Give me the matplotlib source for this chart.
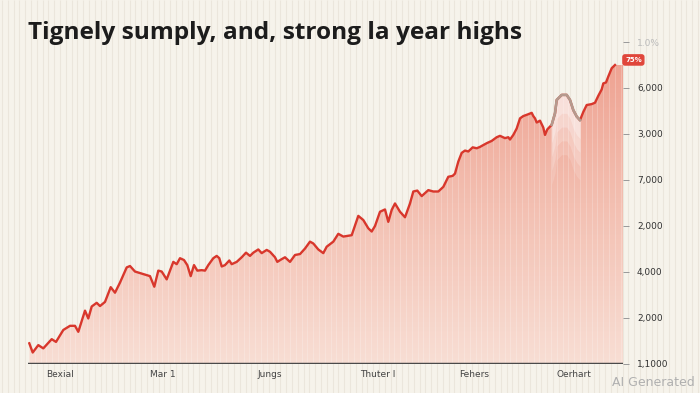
import numpy as np
import matplotlib
matplotlib.use("Agg")
import matplotlib.pyplot as plt
from matplotlib.colors import LinearSegmentedColormap

# series (x in days, y in axis units, one unit per tick)
days = [1.3, 4.7, 10.3, 15.3, 23.7, 28, 35.3, 42, 47, 50.3, 57, 60.3, 63.7, 68.7, 72, 77,
        82.7, 87, 92, 98.7, 102, 107, 122, 126.3, 130.3, 133.7, 138.7, 145.3, 148.7, 152,
        156, 159.3, 162.7, 166, 169.3, 173.7, 177, 180.3, 185.3, 188.7, 191.3, 193.7, 197,
        201.3, 203.7, 208.7, 213.7, 218, 222, 225.3, 230.3, 233.7, 238.7, 242, 247, 249.3,
        253.7, 257, 262, 267, 272, 277, 282, 285.3, 290.3, 295.3, 298.7, 305.3, 310.3,
        315.3, 323.7, 330.3, 335.3, 340.3, 343.7, 347, 352, 357, 360.3, 363.7, 367, 372,
        377, 382, 385.3, 389.3, 393.7, 400.3, 405.3, 410.3, 415.3, 420.3, 424.7, 427,
        430.3, 433.7, 437, 440.3, 444.7, 448.7, 452, 458.7, 463.7, 468.7, 472, 477, 480.3,
        482, 485.3, 488.7, 492, 495.3, 500.3, 503.7, 505.3, 507, 508.7, 512, 515.3, 517,
        519.3, 523.7, 527, 528.7, 533.7, 538.7, 542, 545.3, 548.7, 552, 555.3, 558.7,
        563.7, 567, 570.3, 573.7, 575.3, 578, 580.3, 583.7, 587]
values = [0.45, 0.25, 0.41, 0.34, 0.54, 0.48, 0.74, 0.83, 0.83, 0.70, 1.16, 0.99, 1.25, 1.33,
          1.26, 1.35, 1.67, 1.55, 1.77, 2.10, 2.13, 2.01, 1.91, 1.68, 2.03, 2.01, 1.84, 2.22,
          2.17, 2.30, 2.26, 2.15, 1.91, 2.15, 2.03, 2.04, 2.03, 2.15, 2.30, 2.35, 2.30, 2.12,
          2.15, 2.25, 2.17, 2.22, 2.32, 2.42, 2.35, 2.42, 2.49, 2.41, 2.48, 2.44, 2.32, 2.22,
          2.28, 2.32, 2.22, 2.37, 2.39, 2.51, 2.66, 2.62, 2.49, 2.41, 2.55, 2.66, 2.83, 2.77,
          2.80, 3.22, 3.13, 2.95, 2.88, 3.00, 3.31, 3.36, 3.09, 3.35, 3.49, 3.31, 3.19, 3.49,
          3.75, 3.77, 3.65, 3.78, 3.75, 3.75, 3.85, 4.07, 4.09, 4.14, 4.40, 4.59, 4.64, 4.62,
          4.71, 4.69, 4.72, 4.80, 4.85, 4.93, 4.96, 4.91, 4.93, 4.88, 4.98, 5.12, 5.34, 5.39,
          5.43, 5.46, 5.39, 5.34, 5.25, 5.29, 5.14, 4.98, 5.10, 5.20, 5.45, 5.74, 5.85, 5.85,
          5.74, 5.52, 5.38, 5.30, 5.48, 5.63, 5.65, 5.68, 5.83, 5.97, 6.10, 6.12, 6.25, 6.43,
          6.50]

x_tick_pos = [32, 135, 242, 350, 446, 546]
x_tick_labels = ["Bexial", "Mar 1", "Jungs", "Thuter l", "Fehers", "Oerhart"]
y_tick_labels = ["1,1000", "2,000", "4,000", "2,000", "7,000", "3,000", "6,000", "1.0%"]

title = "Tignely sumply, and, strong la year highs"
badge = "75%"
faded = (523, 552)   # stretch of the line that looks washed out
x_end = 595

bg = "#f6f3eb"
red = "#d8372c"

fig = plt.figure(figsize=(7, 3.93), dpi=100)
fig.patch.set_facecolor(bg)

# faint vertical stripes over the whole picture
back = fig.add_axes([0, 0, 1, 1], zorder=0)
back.set_xlim(0, 700)
back.set_ylim(0, 393)
back.set_facecolor(bg)
back.vlines(np.arange(2, 700, 5.8), 0, 393, color="#ebe6dc", lw=0.8)
back.axis("off")

ax = fig.add_axes([28 / 700, 1 - 364 / 393, 595 / 700, 322 / 393], zorder=1)
ax.patch.set_alpha(0)
ax.set_xlim(0, x_end)
ax.set_ylim(0, 7)

x = np.array(days)
y = np.array(values)
xf = np.append(x, x_end)
yf = np.append(y, y[-1])

# gradient fill below the line
poly = ax.fill_between(xf, 0, yf, color="none", lw=0)
cmap = LinearSegmentedColormap.from_list("f", ["#f8ded4", "#f3bfb1", "#ee9f8e"])
grad = np.linspace(0, 1, 256).reshape(-1, 1)
img = ax.imshow(grad, cmap=cmap, aspect="auto", extent=[0, x_end, 0, 7],
                origin="lower", zorder=1)
img.set_clip_path(poly.get_paths()[0], transform=ax.transData)

# light stripes inside the fill
stripes = ax.vlines(np.arange(1, x_end, 5.8), 0, 7, color="white", lw=0.6, alpha=0.25, zorder=2)
stripes.set_clip_path(poly.get_paths()[0], transform=ax.transData)

# washed-out bump
m = (x >= faded[0]) & (x <= faded[1])
for k, a in zip([1.3, 1.0, 0.7, 0.4], [0.15, 0.2, 0.25, 0.3]):
    ax.fill_between(x[m], y[m] - k, y[m], color="white", alpha=a, lw=0, zorder=2)

ax.plot(x, y, color=red, lw=1.7, zorder=3, solid_joinstyle="round")
ax.plot(x[m], y[m], color="#b59a8e", lw=1.9, zorder=4)

ax.axhline(0, color="#4a4a4a", lw=2.5, zorder=5)

ax.text(597, 6.61, badge, fontsize=5, color="white", fontweight="bold",
        ha="left", va="center", zorder=6,
        bbox=dict(boxstyle="round,pad=0.3,rounding_size=0.3", fc="#e0463b", ec="#e0463b"))

for s in ax.spines.values():
    s.set_visible(False)

ax.set_xticks(x_tick_pos)
ax.set_xticklabels(x_tick_labels, fontsize=6.5, color="#444444")
ax.tick_params(axis="x", length=0, pad=4)

ax.yaxis.tick_right()
ax.set_yticks(range(len(y_tick_labels)))
ax.set_yticklabels(y_tick_labels, fontsize=6.5, color="#333333")
ax.tick_params(axis="y", length=4, width=0.7, color="#999999", pad=6)
ax.get_yticklabels()[-1].set_color("#bbbbbb")

fig.text(28 / 700, 1 - 33 / 393, title, fontsize=17.6, fontweight="bold",
         family=["Open Sans", "DejaVu Sans"], color="#1c1c1c", ha="left", va="center")
fig.text(695 / 700, 1 - 382 / 393, "AI Generated", fontsize=9, color="#b0b0b0",
         ha="right", va="center")

fig.savefig("out.png", dpi=100, facecolor=bg)
